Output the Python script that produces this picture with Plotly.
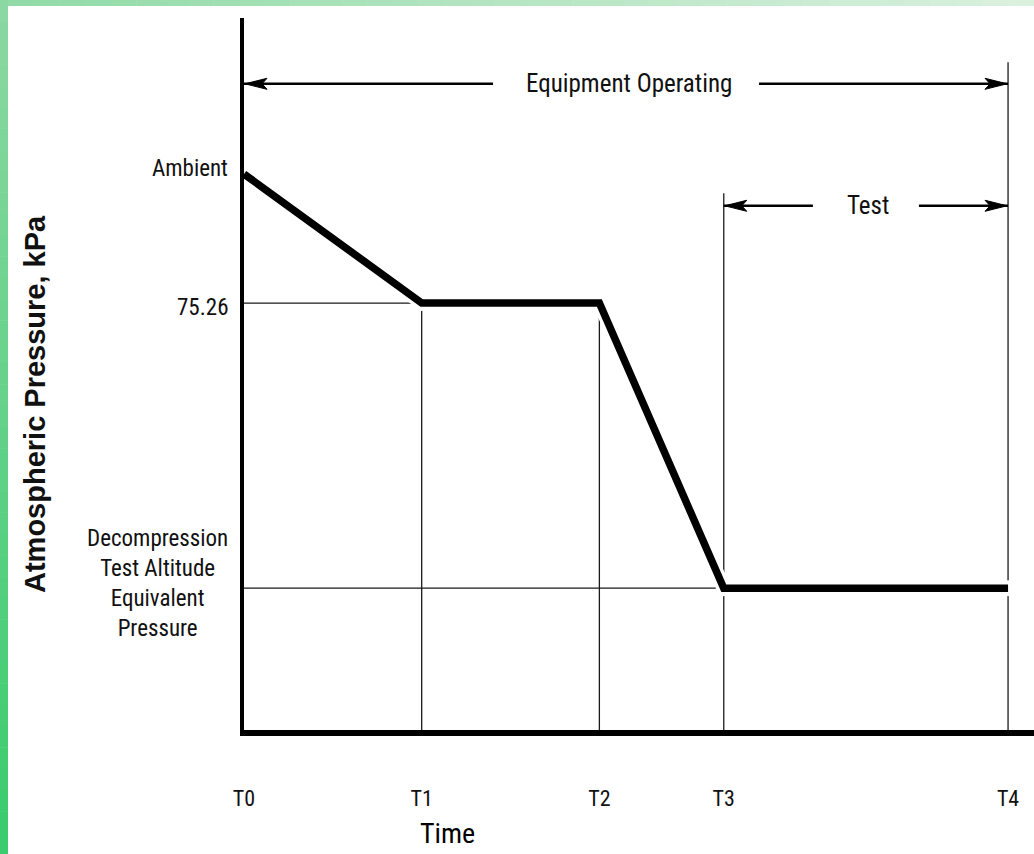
import plotly.graph_objects as go

# ---------------- data ----------------
time_labels = ["T0", "T1", "T2", "T3", "T4"]
time_values = [0, 1, 2, 2.7, 4.3]
pressure_profile = [98, 75.26, 75.26, 25, 25]          # kPa at each time mark
level_labels = ["Ambient", "75.26",
                "Decompression<br>Test Altitude<br>Equivalent<br>Pressure"]
level_values = [98, 75.26, 25]
bracket_labels = ["Equipment Operating", "Test"]

# ---------------- layout constants ----------------
W, H = 1034, 854
ML, MR, MT, MB = 244, 0, 18, 124
PW, PH = W - ML - MR, H - MT - MB
X_RANGE = [0, 4.446]
Y_RANGE = [0, 125.5]

NARROW = "Liberation Sans Narrow, Arial Narrow, Roboto Condensed, DejaVu Sans Condensed, sans-serif"
SANS = "Liberation Sans, Arial, Helvetica, sans-serif"


def px_x_to_paper(p):
    return (p - ML) / PW


def px_y_to_paper(p):
    return (H - MB - p) / PH


def px_dx_to_data(d):
    return d * (X_RANGE[1] - X_RANGE[0]) / PW


T0, T1, T2, T3, T4 = time_values
P_AMB, P_MID, P_DEC = level_values

EQUIP_Y = 113.9     # bracket level (kPa units)
TEST_Y = 92.4
T3_TOP = 94.6
T4_TOP = 117.7

fig = go.Figure()

thin = dict(color="#1a1a1a", width=1.3)
# thin reference lines
fig.add_trace(go.Scatter(x=[T0, T1], y=[P_MID, P_MID], mode="lines", line=thin, hoverinfo="skip"))
fig.add_trace(go.Scatter(x=[T0, T3], y=[P_DEC, P_DEC], mode="lines", line=thin, hoverinfo="skip"))
fig.add_trace(go.Scatter(x=[T1, T1], y=[0, P_MID], mode="lines", line=thin, hoverinfo="skip"))
fig.add_trace(go.Scatter(x=[T2, T2], y=[0, P_MID], mode="lines", line=thin, hoverinfo="skip"))
fig.add_trace(go.Scatter(x=[T3, T3], y=[0, T3_TOP], mode="lines", line=thin, hoverinfo="skip"))
fig.add_trace(go.Scatter(x=[T4, T4], y=[0, T4_TOP], mode="lines", line=thin, hoverinfo="skip"))

# white halo under the profile
fig.add_trace(go.Scatter(x=time_values, y=pressure_profile, mode="lines+markers",
                         line=dict(color="white", width=14),
                         marker=dict(color="white", size=16, line=dict(width=0)),
                         hoverinfo="skip"))
# pressure profile
fig.add_trace(go.Scatter(x=time_values, y=pressure_profile, mode="lines",
                         line=dict(color="black", width=7.5), hoverinfo="skip"))

shapes = []
annotations = []

# green frame (stepped gradient)
N = 40
for i in range(N):
    f = i / (N - 1)
    r = int(140 + (58 - 140) * f)
    g = int(216 + (204 - 216) * f)
    b = int(162 + (110 - 162) * f)
    y0p = i * H / N
    y1p = (i + 1) * H / N
    shapes.append(dict(type="rect", xref="paper", yref="paper",
                       x0=px_x_to_paper(0), x1=px_x_to_paper(8),
                       y0=px_y_to_paper(y0p), y1=px_y_to_paper(y1p + 0.5),
                       fillcolor=f"rgb({r},{g},{b})", line=dict(width=0), layer="above"))
    r2 = int(146 + (218 - 146) * f)
    g2 = int(219 + (241 - 219) * f)
    b2 = int(168 + (222 - 168) * f)
    x0p = 8 + i * (W - 8) / N
    x1p = 8 + (i + 1) * (W - 8) / N
    shapes.append(dict(type="rect", xref="paper", yref="paper",
                       x0=px_x_to_paper(x0p), x1=px_x_to_paper(x1p + 0.5),
                       y0=px_y_to_paper(0), y1=px_y_to_paper(6),
                       fillcolor=f"rgb({r2},{g2},{b2})", line=dict(width=0), layer="above"))


def arrow(tip_x, tail_x, y, direction):
    shapes.append(dict(type="line", xref="x", yref="y", x0=tip_x, x1=tail_x, y0=y, y1=y,
                       line=dict(color="black", width=2.5)))
    s = 1 if direction == "left" else -1
    path = f"M0,0 L{22*s},5.5 L{17*s},0 L{22*s},-5.5 Z"
    shapes.append(dict(type="path", xref="x", yref="y", xsizemode="pixel", ysizemode="pixel",
                       xanchor=tip_x + (px_dx_to_data(1) if s > 0 else -px_dx_to_data(1)),
                       yanchor=y, path=path, fillcolor="black", line=dict(color="black", width=1)))


mid_e = (T0 + T4) / 2
gap_e = px_dx_to_data(133)
arrow(T0, mid_e - gap_e, EQUIP_Y, "left")
arrow(T4, mid_e + gap_e, EQUIP_Y, "right")
annotations.append(dict(x=mid_e + px_dx_to_data(3), y=EQUIP_Y, xref="x", yref="y", text=bracket_labels[0],
                        showarrow=False, xanchor="center", yanchor="middle",
                        font=dict(family=NARROW, size=25, color="#111")))
mid_t = (T3 + T4) / 2
gap_t = px_dx_to_data(53)
arrow(T3, mid_t - gap_t, TEST_Y, "left")
arrow(T4, mid_t + gap_t, TEST_Y, "right")
annotations.append(dict(x=mid_t + px_dx_to_data(2), y=TEST_Y, xref="x", yref="y", text=bracket_labels[1],
                        showarrow=False, xanchor="center", yanchor="middle",
                        font=dict(family=NARROW, size=25, color="#111")))

label_yshift = [6, -4, 5]
for lab, val, ys in zip(level_labels, level_values, label_yshift):
    annotations.append(dict(x=0, y=val, xref="paper", yref="y", text=lab, showarrow=False,
                            xanchor="right", yanchor="middle", xshift=-14, yshift=ys,
                            align="center", font=dict(family=NARROW, size=23, color="#111")))

annotations.append(dict(x=px_x_to_paper(35), y=px_y_to_paper(404), xref="paper", yref="paper",
                        text="<b>Atmospheric Pressure, kPa</b>", textangle=-90, showarrow=False,
                        xanchor="center", yanchor="middle",
                        font=dict(family=SANS, size=29, color="#111")))
annotations.append(dict(x=px_x_to_paper(447), y=px_y_to_paper(834), xref="paper", yref="paper",
                        text="Time", showarrow=False, xanchor="center", yanchor="middle",
                        font=dict(family=NARROW, size=28, color="#000")))

fig.update_layout(
    width=W, height=H, autosize=False,
    margin=dict(l=ML, r=MR, t=MT, b=MB, pad=0),
    paper_bgcolor="white", plot_bgcolor="white",
    showlegend=False,
    shapes=shapes, annotations=annotations,
    xaxis=dict(range=X_RANGE, showgrid=False, zeroline=False, showline=True,
               linecolor="black", linewidth=6, ticks="",
               tickmode="array", tickvals=time_values, ticktext=time_labels,
               ticklabelstandoff=44, automargin=False,
               tickfont=dict(family=NARROW, size=22, color="#111"), fixedrange=True),
    yaxis=dict(range=Y_RANGE, showgrid=False, zeroline=False, showline=True,
               linecolor="black", linewidth=4, ticks="", showticklabels=False,
               automargin=False, fixedrange=True),
)

fig.write_html("out.html", config={"displayModeBar": False},
               post_script="document.body.style.margin='0px';")
